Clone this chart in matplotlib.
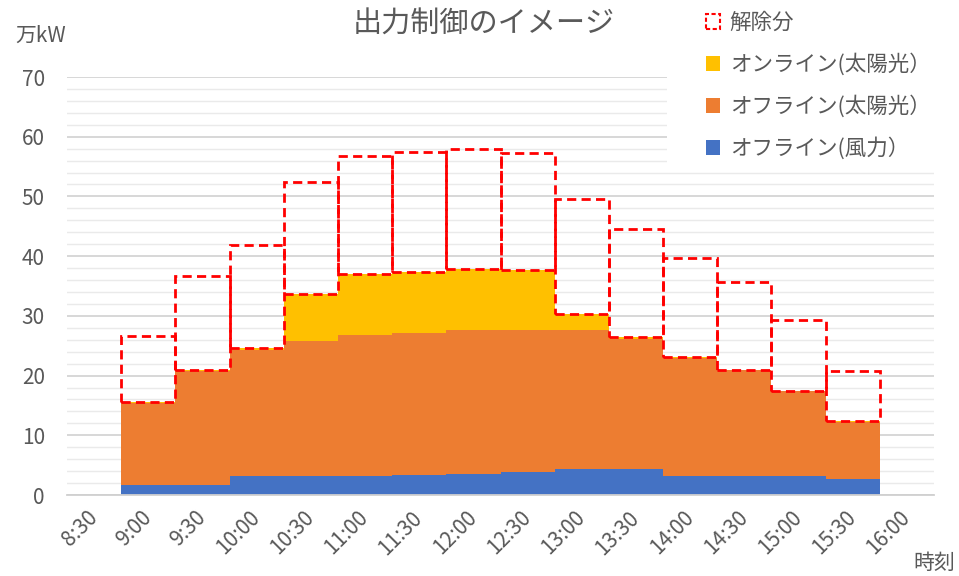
import numpy as np
import matplotlib
matplotlib.use('Agg')
import matplotlib.pyplot as plt
from matplotlib.patches import Rectangle, Patch

plt.rcParams['font.family'] = ['Noto Sans CJK JP', 'DejaVu Sans']

# categories (16 slots, first and last empty)
times = ['8:30', '9:00', '9:30', '10:00', '10:30', '11:00', '11:30', '12:00',
         '12:30', '13:00', '13:30', '14:00', '14:30', '15:00', '15:30', '16:00']
bar_times = times[1:15]

# segment values (万kW)
wind_offline = [1.7, 1.7, 3.2, 3.2, 3.2, 3.3, 3.6, 3.9, 4.3, 4.3, 3.2, 3.2, 3.1, 2.6]
solar_offline = [13.7, 19.0, 21.1, 22.6, 23.6, 23.9, 24.0, 23.7, 23.3, 21.9, 19.8, 17.7, 14.3, 9.7]
solar_online = [0.2, 0.3, 0.3, 7.8, 10.2, 10.1, 10.2, 10.1, 2.7, 0.2, 0.1, 0.1, 0.1, 0.1]
curtailed = [11.0, 15.7, 17.2, 18.8, 19.8, 20.2, 20.1, 19.6, 19.3, 18.2, 16.6, 14.7, 11.8, 8.3]

c_blue = '#4472C4'
c_orange = '#ED7D31'
c_yellow = '#FFC000'
c_red = '#FF0000'
c_text = '#595959'

fig = plt.figure(figsize=(9.59, 5.76), dpi=100)
ax = fig.add_axes([67/959, 1-495/576, (934-67)/959, (495-77)/576])

x = np.array([times.index(t) for t in bar_times])
b1 = np.array(wind_offline)
b2 = b1 + np.array(solar_offline)
b3 = b2 + np.array(solar_online)

ax.bar(x, wind_offline, width=1.0, color=c_blue, linewidth=0, zorder=2)
ax.bar(x, solar_offline, width=1.0, bottom=b1, color=c_orange, linewidth=0, zorder=2)
ax.bar(x, solar_online, width=1.0, bottom=b2, color=c_yellow, linewidth=0, zorder=2)
ax.bar(x, curtailed, width=1.0, bottom=b3, fill=False, edgecolor=c_red,
       linestyle=(0, (3.3, 1.9)), linewidth=2.0, zorder=3)

ax.set_xlim(-0.5, len(times) - 0.5)
ax.set_ylim(0, 70)
ax.set_yticks(np.arange(0, 71, 10))
ax.set_yticks(np.arange(0, 71, 2), minor=True)
ax.set_xticks(np.arange(len(times)))
ax.set_xticklabels(times, rotation=45, ha='right', va='center', rotation_mode='anchor')

ax.grid(axis='y', which='major', color='#D4D4D4', linewidth=1.3, zorder=0)
ax.grid(axis='y', which='minor', color='#EAEAEA', linewidth=1.0, zorder=0)
ax.set_axisbelow(True)
for s in ['top', 'right', 'left']:
    ax.spines[s].set_visible(False)
ax.spines['bottom'].set_color('#D0D0D0')
ax.spines['bottom'].set_linewidth(1.3)

ax.tick_params(axis='y', which='both', length=0, pad=16, labelsize=15, labelcolor=c_text)
ax.tick_params(axis='x', which='both', length=0, pad=14, labelsize=15, labelcolor=c_text)

# white box behind the legend
ax.add_patch(Rectangle((600/867, (495-170)/418), 1, 1, transform=ax.transAxes,
                       facecolor='white', edgecolor='none', zorder=1))

fig.text(484/959, 1-25/576, '出力制御のイメージ', ha='center', va='center',
         fontsize=21, color=c_text)
fig.text(15/959, 1-36/576, '万kW', ha='left', va='center', fontsize=15, color=c_text)
fig.text(955/959, 1-563/576, '時刻', ha='right', va='center', fontsize=15, color=c_text)

handles = [
    Patch(facecolor='none', edgecolor=c_red, linestyle=(0, (2, 1.2)), linewidth=1.5),
    Patch(facecolor=c_yellow, edgecolor='none'),
    Patch(facecolor=c_orange, edgecolor='none'),
    Patch(facecolor=c_blue, edgecolor='none'),
]
labels = ['解除分', 'オンライン(太陽光）', 'オフライン(太陽光）', 'オフライン(風力）']
fig.legend(handles, labels, loc='upper left', bbox_to_anchor=(706/959, 1-12/576),
           frameon=False, fontsize=15.5, handlelength=0.65, handleheight=0.65,
           handletextpad=0.45, labelspacing=0.9, borderpad=0, borderaxespad=0,
           labelcolor=c_text)

fig.savefig('out.png', dpi=100)
